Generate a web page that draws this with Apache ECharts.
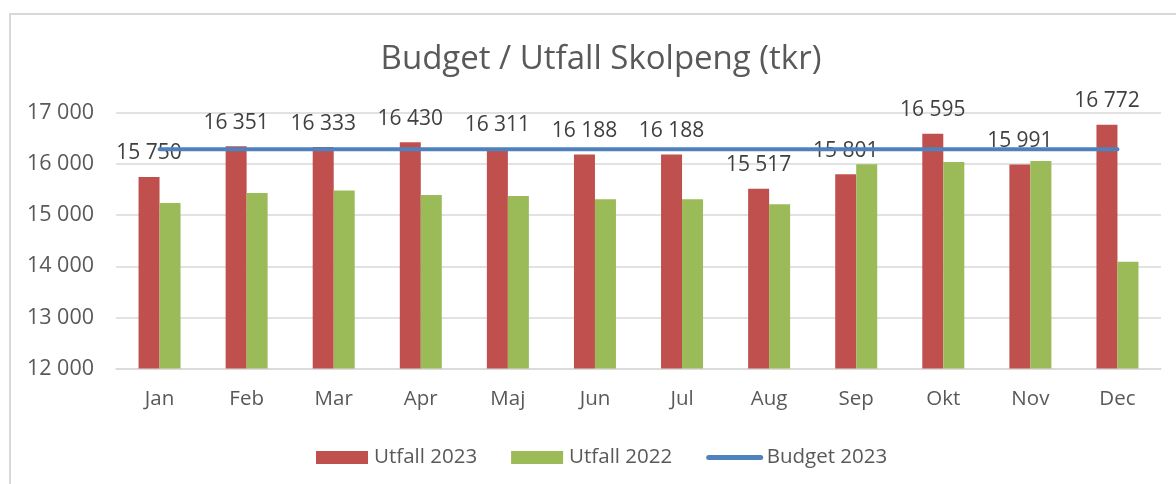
<!DOCTYPE html>
<html>
<head>
<meta charset="utf-8">
<script src="https://cdn.jsdelivr.net/npm/echarts@6/dist/echarts.min.js"></script>
<style>
  html, body { margin: 0; padding: 0; background: #ffffff; }
  #chart { width: 1176px; height: 484px; }
</style>
</head>
<body>
<div id="chart"></div>
<script>
// Monthly school-funding outcome vs budget, in thousand SEK
const months = ['Jan', 'Feb', 'Mar', 'Apr', 'Maj', 'Jun', 'Jul', 'Aug', 'Sep', 'Okt', 'Nov', 'Dec'];
const utfall2023 = [15750, 16351, 16333, 16430, 16311, 16188, 16188, 15517, 15801, 16595, 15991, 16772];
const utfall2022 = [15240, 15435, 15485, 15395, 15375, 15310, 15310, 15215, 15995, 16040, 16060, 14090];
const budget2023 = [16290, 16290, 16290, 16290, 16290, 16290, 16290, 16290, 16290, 16290, 16290, 16290];
const titleText = 'Budget / Utfall Skolpeng (tkr)';

const FONT = '"Open Sans", "Noto Sans", sans-serif';
const AXIS_TEXT = '#595959';

// thousands separated by a space, e.g. 16 351
function fmt(v) {
  return String(Math.round(v)).replace(/\B(?=(\d{3})+(?!\d))/g, ' ');
}

const chart = echarts.init(document.getElementById('chart'), null, { renderer: 'canvas' });

chart.setOption({
  backgroundColor: '#ffffff',
  animation: false,
  textStyle: { fontFamily: FONT },
  graphic: [
    {
      type: 'rect',
      shape: { x: 10, y: 14, width: 1200, height: 500 },
      style: { fill: 'none', stroke: '#d9d9d9', lineWidth: 2 },
      silent: true
    },
    {
      type: 'text',
      x: 601,
      y: 60,
      style: {
        text: titleText,
        fontFamily: FONT,
        fontSize: 33,
        fill: AXIS_TEXT,
        textAlign: 'center',
        textVerticalAlign: 'middle'
      }
    }
  ],
  grid: { left: 116, right: 15, top: 113, bottom: 115.5, containLabel: false },
  legend: {
    left: 316,
    top: 447,
    padding: 0,
    itemWidth: 52,
    itemHeight: 13,
    itemGap: 34,
    textStyle: { fontFamily: FONT, fontSize: 20.5, color: AXIS_TEXT, padding: [0, 0, 0, 1] },
    data: [
      { name: 'Utfall 2023', icon: 'rect' },
      { name: 'Utfall 2022', icon: 'rect' },
      { name: 'Budget 2023', itemStyle: { opacity: 0 }, lineStyle: { width: 5, cap: 'round', color: '#4F81BD' } }
    ]
  },
  xAxis: {
    type: 'category',
    data: months,
    axisLine: { show: true, lineStyle: { color: '#d9d9d9', width: 1.5 } },
    axisTick: { show: false },
    axisLabel: { color: AXIS_TEXT, fontSize: 20.5, fontFamily: FONT, margin: 20 }
  },
  yAxis: {
    type: 'value',
    min: 12000,
    max: 17000,
    interval: 1000,
    axisLine: { show: false },
    axisTick: { show: false },
    splitLine: { lineStyle: { color: '#d9d9d9', width: 1.5 } },
    axisLabel: {
      color: AXIS_TEXT,
      fontSize: 21.5,
      fontFamily: FONT,
      margin: 22,
      formatter: fmt
    }
  },
  series: [
    {
      name: 'Utfall 2023',
      type: 'bar',
      data: utfall2023,
      barWidth: 21,
      barGap: '0%',
      itemStyle: { color: '#C0504D' },
      label: {
        show: true,
        position: 'top',
        distance: 13,
        color: '#404040',
        fontSize: 21,
        fontFamily: FONT,
        formatter: p => fmt(p.value)
      },
      z: 2
    },
    {
      name: 'Utfall 2022',
      type: 'bar',
      data: utfall2022,
      barWidth: 21,
      itemStyle: { color: '#9BBB59' },
      z: 2
    },
    {
      name: 'Budget 2023',
      type: 'line',
      data: budget2023,
      symbol: 'none',
      lineStyle: { color: '#4F81BD', width: 4, cap: 'round' },
      itemStyle: { color: '#4F81BD' },
      z: 3
    }
  ]
});
</script>
</body>
</html>
